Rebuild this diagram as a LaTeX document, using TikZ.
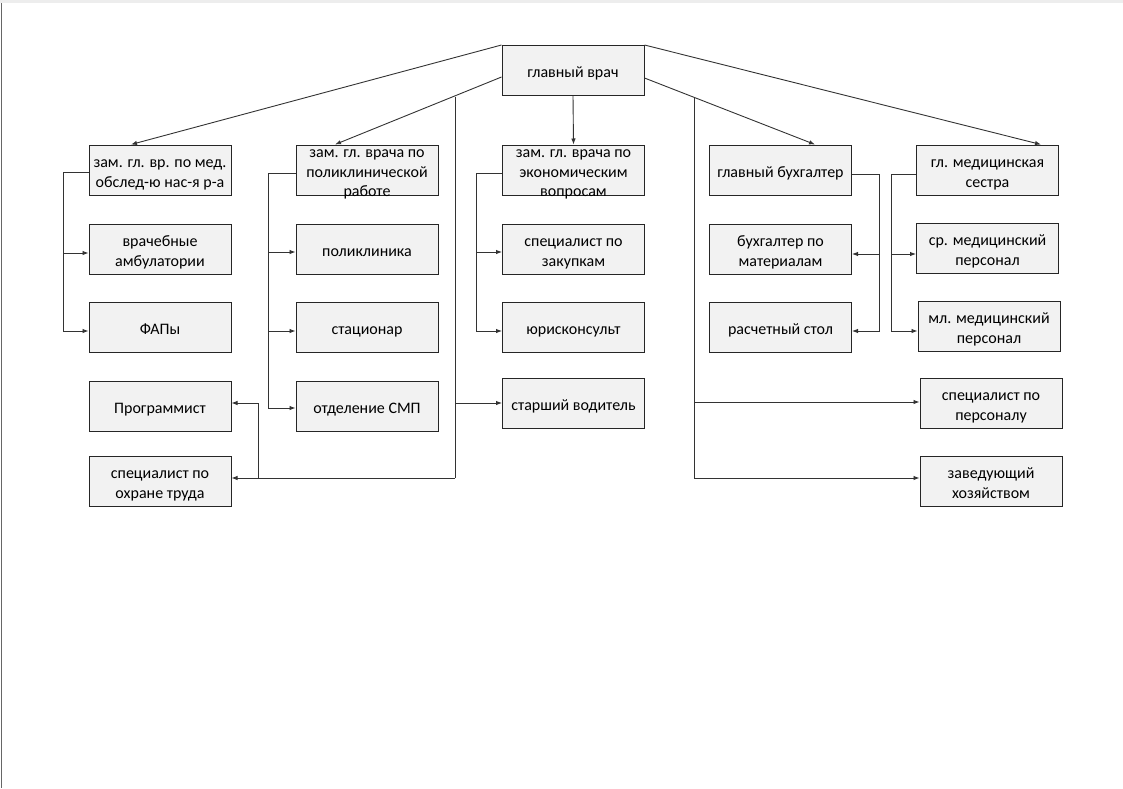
\documentclass[tikz,border=0pt]{standalone}
\usepackage{fontspec}
\setmainfont{Carlito}
\usetikzlibrary{arrows.meta,calc}
\newcommand{\bxtext}[1]{\raisebox{-3.5pt}[\dimexpr\height-5pt\relax][\dimexpr\depth-5pt\relax]{\begin{tabular}{@{}c@{}}#1\end{tabular}}}
\begin{document}
\begin{tikzpicture}[x=1pt,y=-1pt,
  boxfont/.style={font=\fontsize{16}{19.5}\selectfont},
  box/.style={boxfont,draw=black!85,line width=1pt,fill=black!5,minimum width=142pt,minimum height=50pt,inner sep=0pt},
  con/.style={line width=0.9pt,draw=black!80},
  arr/.style={con,-{Latex[length=6pt,width=4.5pt]}}]
\useasboundingbox (0,0) rectangle (1123,788);
\fill[black!7] (0,0) rectangle (1123,3);
\draw[black!60,line width=1pt] (1,3) -- (1,788);

% top
\node[box] (gv) at (573,70.5) {\bxtext{главный врач}};

% row 1
\node[box] (z1) at (160,170) {\bxtext{зам. гл. вр. по мед.\\обслед-ю нас-я р-а}};
\node[box] (z2) at (367,170) {\bxtext{зам. гл. врача по\\поликлинической\\работе}};
\node[box] (z3) at (573.5,170) {\bxtext{зам. гл. врача по\\экономическим\\вопросам}};
\node[box] (gb) at (780.5,170) {\bxtext{главный бухгалтер}};
\node[box] (ms) at (987.5,170) {\bxtext{гл. медицинская\\сестра}};

% row 2
\node[box] (amb) at (160,249) {\bxtext{врачебные\\амбулатории}};
\node[box] (pol) at (367,249) {\bxtext{поликлиника}};
\node[box] (zak) at (573.5,249) {\bxtext{специалист по\\закупкам}};
\node[box] (mat) at (780.5,249) {\bxtext{бухгалтер по\\материалам}};
\node[box] (srm) at (987.5,248) {\bxtext{ср. медицинский\\персонал}};

% row 3
\node[box] (fap) at (160,327) {\bxtext{ФАПы}};
\node[box] (sta) at (367,327) {\bxtext{стационар}};
\node[box] (yur) at (573.5,327) {\bxtext{юрисконсульт}};
\node[box] (ras) at (780.5,327) {\bxtext{расчетный стол}};
\node[box] (mlm) at (989,326) {\bxtext{мл. медицинский\\персонал}};

% row 4
\node[box] (prg) at (160,406) {\bxtext{Программист}};
\node[box] (smp) at (367,406) {\bxtext{отделение СМП}};
\node[box] (vod) at (573.5,403) {\bxtext{старший водитель}};
\node[box] (spp) at (991,403) {\bxtext{специалист по\\персоналу}};

% row 5
\node[box] (oxr) at (160,481) {\bxtext{специалист по\\охране труда}};
\node[box] (zav) at (991,481) {\bxtext{заведующий\\хозяйством}};

% diagonals from главный врач
\draw[arr] (gv.north west) -- ([xshift=-29pt]z1.north);
\draw[arr] ([yshift=-6.5pt]gv.west) -- ([xshift=-32pt]z2.north);
\draw[arr] (gv.south) -- (z3.north);
\draw[arr] ([yshift=-7.5pt]gv.east) -- ([xshift=34.5pt]gb.north);
\draw[arr] (gv.north east) -- ([xshift=53.5pt]ms.north);

% зам 1
\draw[arr] ([yshift=-2pt]z1.west) -| ([xshift=-25pt,yshift=-4pt]fap.west) -- ([yshift=-4pt]fap.west);
\draw[arr] ([xshift=-25pt,yshift=-4pt]amb.west) -- ([yshift=-4pt]amb.west);

% зам 2
\draw[arr] ([yshift=-3pt]z2.west) -| ([xshift=-27pt,yshift=-2pt]smp.west) -- ([yshift=-2pt]smp.west);
\draw[arr] ([xshift=-27pt,yshift=-3pt]pol.west) -- ([yshift=-3pt]pol.west);
\draw[arr] ([xshift=-27pt,yshift=-4pt]sta.west) -- ([yshift=-4pt]sta.west);

% зам 3
\draw[arr] ([yshift=-3pt]z3.west) -| ([xshift=-26pt,yshift=-4pt]yur.west) -- ([yshift=-4pt]yur.west);
\draw[arr] ([xshift=-26pt,yshift=-3pt]zak.west) -- ([yshift=-3pt]zak.west);

% главный бухгалтер
\draw[arr] ([yshift=-4pt]gb.east) -| ([xshift=27pt,yshift=-4pt]ras.east) -- ([yshift=-4pt]ras.east);
\draw[arr] ([xshift=27pt,yshift=-5pt]mat.east) -- ([yshift=-5pt]mat.east);

% гл. мед. сестра
\draw[arr] ([yshift=-4pt]ms.west) -| ([xshift=-26pt,yshift=-5pt]mlm.west) -- ([yshift=-5pt]mlm.west);
\draw[arr] ([xshift=-25pt,yshift=-6pt]srm.west) -- ([yshift=-6pt]srm.west);

% left vertical bus
\coordinate (lt) at (455,96.5);
\coordinate (lb) at (455,478);
\coordinate (lv) at (455,403);
\coordinate (pj) at (258,478);
\draw[con] (lt) -- (lb);
\draw[arr] (lv) -- (vod.west);
\draw[arr] (lb) -- ([yshift=3pt]oxr.east);
\draw[arr] (pj) |- ([yshift=3pt]prg.east);

% right vertical bus
\coordinate (rt) at (694,97.5);
\coordinate (rb) at (694,478);
\coordinate (rv) at (694,402);
\draw[con] (rt) -- (rb);
\draw[arr] (rv) -- ([yshift=1pt]spp.west);
\draw[arr] (rb) -- ([yshift=3pt]zav.west);
\end{tikzpicture}
\end{document}
